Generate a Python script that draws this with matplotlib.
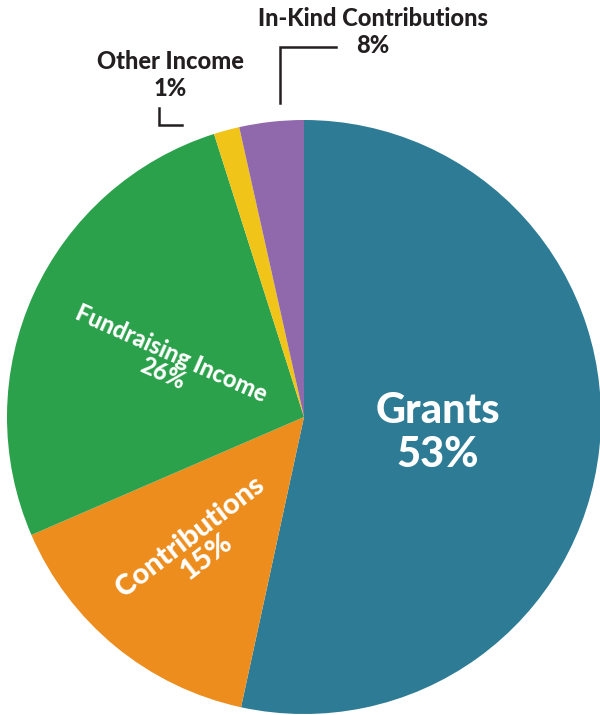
import matplotlib.pyplot as plt

# sizes as drawn in the picture, labels as printed on it
categories = ["Grants", "Contributions", "Fundraising Income", "Other Income", "In-Kind Contributions"]
shares = [53.4, 15.1, 26.6, 1.4, 3.5]
pct_labels = ["53%", "15%", "26%", "1%", "8%"]
colors = ["#2d7b94", "#ec8d1e", "#2aa14a", "#f1c419", "#9068ac"]

W, H = 600, 715
fig = plt.figure(figsize=(W / 100, H / 100), dpi=100)
ax = fig.add_axes([0, 0, 1, 1])

# pie in pixel-like coords (y up)
cx, cy, r = 304, H - 417, 297
ax.pie(shares, colors=colors, startangle=90, counterclock=False,
       center=(cx, cy), radius=r, frame=True,
       wedgeprops=dict(linewidth=0))
ax.set_xlim(0, W)
ax.set_ylim(0, H)
ax.set_aspect("equal")
ax.axis("off")

font = "Lato"
wt = "black"
dark = "#231f20"

def py(y):
    return H - y

# labels inside slices
ax.text(438, py(433), categories[0] + "\n" + pct_labels[0], color="white",
        fontsize=30, fontweight=wt, family=font, ha="center", va="center",
        linespacing=1.2)
ax.text(198, py(547), categories[1] + "\n" + pct_labels[1], color="white",
        fontsize=21, fontweight=wt, family=font, ha="center", va="center",
        rotation=37.7, rotation_mode="anchor", linespacing=1.0)
ax.text(167, py(364), categories[2] + "\n" + pct_labels[2], color="white",
        fontsize=17, fontweight=wt, family=font, ha="center", va="center",
        rotation=-24, rotation_mode="anchor", linespacing=0.95)

# outside labels with leader lines
ax.text(170, py(75), categories[3] + "\n" + pct_labels[3], color=dark,
        fontsize=17, fontweight=wt, family=font, ha="center", va="center",
        linespacing=1.2)
ax.plot([159, 159, 182], [py(108), py(125), py(125)], color=dark, lw=1.8,
        solid_joinstyle="miter")

ax.text(373, py(32), categories[4] + "\n" + pct_labels[4], color=dark,
        fontsize=17, fontweight=wt, family=font, ha="center", va="center",
        linespacing=1.2)
ax.plot([280, 280, 336], [py(103), py(47), py(47)], color=dark, lw=1.8,
        solid_joinstyle="miter")

fig.savefig("out.png", dpi=100)
